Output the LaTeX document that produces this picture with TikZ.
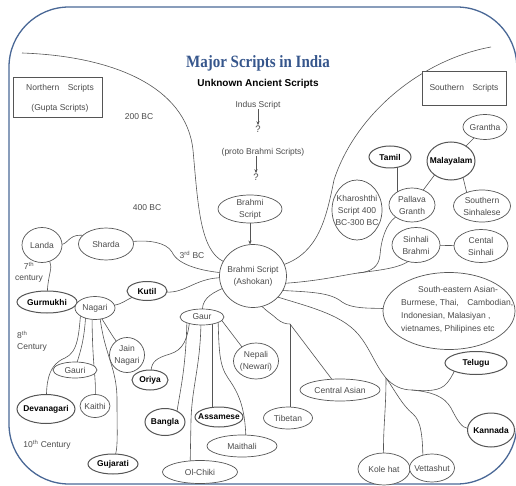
\documentclass[tikz,border=0pt]{standalone}
\usepackage{fontspec}
\setmainfont{Liberation Sans}
\newfontfamily\titlefont{Liberation Serif}
\usetikzlibrary{shapes.geometric,arrows.meta,calc,backgrounds}
\definecolor{framec}{RGB}{74,104,150}
\definecolor{titlec}{RGB}{54,86,140}
\definecolor{linec}{RGB}{85,85,85}
\definecolor{textc}{RGB}{75,75,75}
\tikzset{
 ell/.style={ellipse, draw=linec, line width=0.7pt, fill=white, inner sep=0pt, outer sep=0pt},
 bell/.style={ell, line width=1pt},
 lbl/.style={text=textc, font=\fontsize{8.5}{12}\selectfont, align=center, inner sep=0pt},
 blbl/.style={text=black, font=\fontsize{8.4}{10}\selectfont\bfseries, align=center, inner sep=0pt},
 conn/.style={draw=linec, line width=0.6pt},
 boxn/.style={draw=linec, line width=0.8pt, rectangle, inner sep=0pt, fill=white},
 frame/.style={draw=framec, line width=1.3pt},
 note/.style={text=textc, font=\fontsize{8.5}{11}\selectfont, inner sep=0pt},
 qmark/.style={text=textc, font=\fontsize{9.5}{11}\selectfont, inner sep=0.3pt},
 tip/.style={-{Stealth[length=4pt,width=3.2pt]}}
}
\newcommand\ellN[6]{\node[ell, minimum width=#4pt, minimum height=#5pt] (#1) at (#2,#3) {};
  \node[lbl] (#1-t) at (#1.center) {#6};}
\newcommand\ellB[6]{\node[bell, minimum width=#4pt, minimum height=#5pt] (#1) at (#2,#3) {};
  \node[blbl] (#1-t) at (#1.center) {#6};}
\begin{document}
\begin{tikzpicture}[x=1pt,y=-1pt]
\useasboundingbox (0,0) rectangle (516,486);
\draw[frame, rounded corners=60pt] (9,7) rectangle (516.8,484);

% titles
\node[font=\titlefont\fontsize{15}{17}\selectfont\bfseries, text=titlec, inner sep=0pt] (title) at (258,63) {\scalebox{1}[1.15]{Major Scripts in India}};
\node[font=\fontsize{10}{12}\selectfont\bfseries, inner sep=0pt] (unknown) at (258,84) {Unknown Ancient Scripts};
\node[note] (indus) at (258,105) {Indus Script};
\node[qmark] (q1) at (258,129) {?};
\node[note] (proto) at (263,152) {(proto Brahmi Scripts)};
\node[qmark] (q2) at (256,177) {?};

% boxes
\node[boxn, minimum width=89pt, minimum height=40pt] (north) at (57.5,97) {};
\node[lbl] (north-t) at (60,98) {Northern\quad Scripts\\[8pt](Gupta Scripts)};
\node[boxn, minimum width=84pt, minimum height=34pt] (south) at (464,88) {};
\node[lbl] (south-t) at (464,88) {Southern\quad Scripts};

% period notes
\node[note] (bc200) at (139,117) {200 BC};
\node[note] (bc400) at (147,208) {400 BC};
\node[note] (bc3) at (192,255) {3\textsuperscript{rd} BC};
\node[note, align=center] (c7) at (29,272) {7\textsuperscript{th}\\century};
\node[note, align=left, anchor=west] (c8) at (17,341) {8\textsuperscript{th}\\Century};
\node[note] (c10) at (47,445) {10\textsuperscript{th} Century};

% script nodes
\ellN{brahmi}{250}{209}{64}{28}{Brahmi\\Script}
\ellN{ash}{253}{276}{67}{63}{Brahmi Script\\(Ashokan)}
\ellN{landa}{42}{245}{40}{35}{Landa}
\ellN{sharda}{106}{244}{55}{32}{Sharda}
\ellB{gurmukhi}{47}{302}{60}{22}{Gurmukhi}
\ellN{nagari}{95}{308}{40}{23}{Nagari}
\ellB{kutil}{147}{291}{40}{19}{Kutil}
\ellN{jain}{127}{355}{35}{35}{Jain\\Nagari}
\ellN{gauri}{75}{370}{44}{16}{Gauri}
\ellB{devanagari}{46}{409}{58}{29}{Devanagari}
\ellN{kaithi}{95}{406}{30}{23}{Kaithi}
\ellB{gujarati}{113}{464}{50}{20}{Gujarati}
\ellN{gaur}{202}{317}{44}{16}{Gaur}
\ellB{oriya}{150}{380}{36}{20}{Oriya}
\ellB{bangla}{165}{422}{40}{27}{Bangla}
\ellB{assamese}{219}{417}{48}{20}{Assamese}
\ellN{olchiki}{200}{472}{75}{23}{Ol-Chiki}
\ellN{maithali}{242}{446}{70}{22}{Maithali}
\ellN{nepali}{256}{361}{45}{36}{Nepali\\(Newari)}
\ellN{tibetan}{288}{418}{49}{22}{Tibetan}
\ellN{central}{340}{390}{80}{22}{Central Asian}
\ellB{telugu}{476}{363}{62}{23}{Telugu}
\ellB{kannada}{491}{430}{47}{34}{Kannada}
\ellN{kolehat}{384}{469}{52}{32}{Kole hat}
\ellN{vettashut}{432}{468}{45}{28}{Vettashut}
\ellN{kharoshthi}{357}{210}{50}{60}{Kharoshthi\\Script 400\\BC-300 BC}
\ellN{pallava}{412}{205}{46}{34}{Pallava\\Granth}
\ellN{sinhalib}{416}{245}{48}{35}{Sinhali\\Brahmi}
\ellN{cental}{481}{246}{54}{33}{Cental\\Sinhali}
\ellN{southsin}{482}{206}{57}{32}{Southern\\Sinhalese}
\ellB{tamil}{390}{157}{42}{22}{Tamil}
\ellB{malayalam}{451}{161}{48}{38}{Malayalam}
\ellN{grantha}{485}{127}{44}{25}{Grantha}
\node[ell, minimum width=132pt, minimum height=77pt] (seasia) at (449,311) {};
\node[lbl, align=left, anchor=west, font=\fontsize{8.5}{13.2}\selectfont] (seasia-t) at (401,310) {\hspace*{17pt}South-eastern Asian-\\Burmese, Thai,\quad Cambodian,\\Indonesian, Malasiyan ,\\vietnames, Philipines etc};

% arrows
\draw[conn, tip] (indus.south) -- (q1.north);
\draw[conn, tip] (q2 |- proto.south) -- (q2.north);
\draw[conn, tip] (brahmi.south) -- (brahmi.south |- ash.north);

% connectors
\coordinate (la0) at (22,53);
\coordinate (ra0) at (491,47);
\coordinate (jt) at (290,324);
\coordinate (jk) at (386,378);
\coordinate (jn) at (412,390);
\coordinate (jp) at (358,273);
\begin{scope}[on background layer]
\draw[conn] (la0) .. controls (110,56) and (186,85) .. (193,150) .. controls (198,205) and (200,250) .. (ash);
\draw[conn] (ra0) .. controls (420,60) and (355,115) .. (334,180) .. controls (326,220) and (318,252) .. (ash);
\draw[conn] (landa) .. controls (68,244) and (70,232) .. ($(sharda)+(-20,-8)$);
\draw[conn] (sharda) .. controls (148,240) and (166,242) .. (172,252) .. controls (178,266) and (205,271) .. (ash);
\draw[conn] (landa) .. controls (53,268) and (48,275) .. (gurmukhi);
\draw[conn] (nagari) .. controls (122,304) and (126,300) .. (kutil);
\draw[conn] (kutil) .. controls (185,293) and (195,279) .. (ash);
\draw[conn] (nagari) .. controls (109,330) and (113,337) .. (jain);
\draw[conn] ($(nagari)+(-14,0)$) .. controls (79,335) and (78,352) .. (65,358) .. controls (50,364) and (47,378) .. (devanagari);
\draw[conn] ($(nagari)+(-9,0)$) .. controls (85,340) and (80,352) .. (gauri);
\draw[conn] ($(nagari)+(-3,0)$) .. controls (92,365) and (96,375) .. (kaithi);
\draw[conn] ($(nagari)+(4,0)$) .. controls (103,355) and (117,365) .. (117,400) .. controls (117,430) and (118,445) .. (gujarati);
\draw[conn] ($(ash)+(-25,10)$) .. controls (214,292) and (203,297) .. (gaur);
\draw[conn] (gaur.-10) -- (nepali.135);
\draw[conn] ($(gaur)+(-12,0)$) .. controls (188,340) and (183,350) .. (170,354) .. controls (156,358) and (152,362) .. (oriya);
\draw[conn] ($(gaur)+(-15,0)$) .. controls (186,370) and (180,390) .. ($(bangla)+(11,-4)$);
\draw[conn] ($(gaur)+(-1,0)$) .. controls (201,365) and (192,385) .. (191,420) -- ($(olchiki)+(-10,0)$);
\draw[conn] ($(gaur)+(10,0)$) -- ($(assamese)+(-7,0)$);
\draw[conn] ($(gaur)+(16,0)$) .. controls (219,350) and (219,365) .. (228,378) .. controls (240,395) and (246,410) .. ($(maithali)+(4,0)$);
\draw[conn] ($(ash)+(0,18)$) .. controls (262,310) and (270,312) .. (277,319) .. controls (282,323) and (286,324) .. (jt);
\draw[conn] (jt) -- ($(tibetan)+(2,0)$);
\draw[conn] (jt) -- (central);
\draw[conn] ($(ash)+(15,18)$) .. controls (305,306) and (340,313) .. (358,334) .. controls (370,348) and (375,365) .. (jk) .. controls (393,386) and (402,390) .. (jn) .. controls (425,391) and (440,392) .. (447,383) .. controls (452,377) and (454,372) .. ($(telugu)+(-18,0)$);
\draw[conn] (jk) .. controls (386,410) and (383,430) .. (kolehat);
\draw[conn] (jk) .. controls (396,392) and (402,405) .. (413,414) .. controls (421,421) and (423,435) .. ($(vettashut)+(-9,0)$);
\draw[conn] (jn) .. controls (432,392) and (444,396) .. (451,408) .. controls (457,420) and (462,428) .. (kannada);
\draw[conn] ($(ash)+(20,14)$) .. controls (310,292) and (330,292) .. (342,302) .. controls (352,309) and (370,308) .. (seasia);
\draw[conn] ($(ash)+(20,8)$) .. controls (315,282) and (338,276) .. (jp) .. controls (380,270) and (405,268) .. ($(sinhalib)+(-3,12)$);
\draw[conn] (pallava) .. controls (386,224) and (381,240) .. (380,255) .. controls (379,266) and (372,272) .. (jp);
\draw[conn] (sinhalib) -- (cental);
\draw[conn] ($(tamil)+(7,0)$) -- ($(pallava)+(-15,0)$);
\draw[conn] ($(malayalam)+(-6,0)$) -- (pallava);
\draw[conn] (malayalam) -- (grantha);
\draw[conn] ($(malayalam)+(8,0)$) -- ($(southsin)+(-12,0)$);
\end{scope}
\end{tikzpicture}
\end{document}
